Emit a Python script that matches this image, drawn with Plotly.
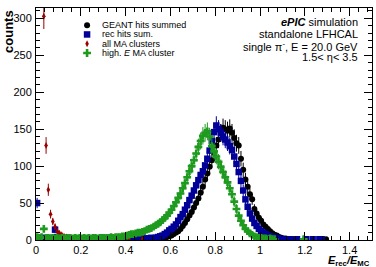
import numpy as np
import plotly.graph_objects as go

# bin width 0.01, bin centers from 0.005
bin_width = 0.01

geant = [2, 0, 0, 0, 0, 0, 0, 0, 1, 0,
         0, 1, 0, 0, 0, 0, 1, 0, 0, 0,
         0, 0, 1, 0, 0, 0, 0, 0, 1, 0,
         0, 0, 0, 1, 0, 0, 0, 1, 0, 0,
         1, 0, 0, 1, 0, 1, 0, 1, 1, 0,
         1, 1, 2, 1, 2, 2, 3, 3, 4, 5,
         6, 8, 10, 12, 15, 19, 23, 28, 33, 38,
         44, 50, 56, 64, 72, 82, 90, 99, 108, 118,
         128, 136, 145, 152, 150, 148, 151, 145, 138, 131,
         128, 110, 95, 82, 72, 62, 55, 42, 36, 30,
         26, 21, 18, 15, 12, 9, 7, 6, 4, 3,
         2, 2, 1, 1, 1, 1, 0, 0, 0, 0,
         0, 0, 0, 0, 0, 0, 0, 0, 0, 1]

rec_hits = [50, 3, 2, 3, 2, 1, 2, 3, 14, 4,
            3, 2, 2, 1, 3, 2, 1, 2, 2, 1,
            1, 2, 1, 2, 1, 1, 2, 1, 2, 1,
            2, 1, 1, 2, 1, 2, 1, 2, 1, 2,
            1, 2, 2, 1, 2, 1, 2, 1, 2, 2,
            2, 3, 2, 3, 4, 5, 6, 8, 10, 13,
            15, 18, 21, 26, 31, 35, 41, 47, 54, 60,
            67, 74, 81, 88, 93, 101, 110, 121, 134, 146,
            155, 150, 145, 140, 136, 132, 127, 122, 113, 103,
            92, 80, 67, 55, 45, 36, 29, 23, 19, 15,
            12, 10, 8, 6, 5, 4, 3, 2, 2, 1,
            1, 1, 0, 1, 0, 0, 1, 0, 0, 0,
            1, 0, 0, 1, 0, 0, 1, 1, 0, 0]

all_ma = [0, 0, 0, 303, 128, 68, 35, 25, 18, 12,
          9, 7, 5, 4, 3, 3, 2, 2, 2, 1,
          1, 1, 2, 1, 1, 1, 0, 1, 1, 0,
          1, 0, 0, 1, 0, 0, 1, 0, 0, 0,
          0, 1, 0, 0, 0, 0, 0, 1, 0, 0]

high_e_ma = [4, 3, 4, 15, 3, 3, 2, 3, 2, 3,
             2, 3, 2, 2, 3, 2, 2, 3, 2, 3,
             2, 3, 2, 3, 2, 3, 3, 2, 3, 3,
             3, 3, 3, 4, 3, 4, 4, 4, 5, 5,
             6, 7, 8, 8, 9, 10, 10, 11, 12, 14,
             15, 16, 18, 20, 22, 24, 27, 30, 33, 37,
             41, 46, 51, 57, 63, 70, 77, 85, 93, 100,
             108, 117, 126, 134, 141, 145, 147, 140, 127, 120,
             113, 106, 99, 92, 85, 78, 70, 62, 52, 42,
             33, 26, 20, 15, 12, 9, 7, 5, 4, 3,
             3, 2, 2, 1, 2, 1, 1, 0, 0, 0,
             0, 0, 0, 0, 0, 0, 0, 0, 0, 1]

series = [
    ("GEANT hits summed", geant, "circle", 6, "#000000"),
    ("rec hits sum.", rec_hits, "square", 6.5, "#000099"),
    ("all MA clusters", all_ma, "diamond-tall", 5, "#990000"),
    ("high. <i>E</i> MA cluster", high_e_ma, "cross", 6.5, "#1e9a1e"),
]

x_ticks = [0, 0.2, 0.4, 0.6, 0.8, 1.0, 1.2, 1.4]
x_ticktext = ["0", "0.2", "0.4", "0.6", "0.8", "1", "1.2", "1.4"]
y_ticks = [0, 50, 100, 150, 200, 250, 300]

fig = go.Figure()
for name, vals, sym, size, col in series:
    v = np.array(vals, dtype=float)
    xc = 0.005 + bin_width * np.arange(len(v))
    m = v > 0
    fig.add_trace(go.Scatter(
        x=xc[m], y=v[m], mode="markers", name=name,
        marker=dict(symbol=sym, size=size, color=col, line=dict(width=0)),
        error_y=dict(type="data", array=np.sqrt(v[m]), color=col, thickness=1, width=0),
        error_x=dict(type="constant", value=bin_width / 2, color=col, thickness=1, width=0),
        showlegend=False,
    ))

# manual legend (glyphs on an overlay [0,1] axis)
leg_rows = [0.926, 0.886, 0.846, 0.806]
for (name, vals, sym, size, col), yy in zip(series, leg_rows):
    fig.add_trace(go.Scatter(
        x=[0.152], y=[yy], mode="markers", xaxis="x2", yaxis="y2",
        marker=dict(symbol=sym, size=size, color=col, line=dict(width=0)),
        showlegend=False, hoverinfo="skip"))
    fig.add_annotation(x=0.19, y=yy, xref="paper", yref="paper", text=name,
                       showarrow=False, xanchor="left", yanchor="middle",
                       font=dict(size=9, color="black", family="Liberation Sans"))

info_lines = ["<b><i>ePIC</i></b> simulation", "standalone LFHCAL",
              "single π<sup>-</sup>, E = 20.0 GeV", "1.5< η< 3.5"]
info_y = [0.94, 0.888, 0.836, 0.787]
for t, yy in zip(info_lines, info_y):
    fig.add_annotation(x=0.964, y=yy, xref="paper", yref="paper", text=t,
                       showarrow=False, xanchor="right", yanchor="middle",
                       font=dict(size=11, color="black", family="Liberation Sans"))

fig.add_annotation(x=-0.082, y=1.0, xref="paper", yref="paper", text="<b>counts</b>",
                   textangle=-90, showarrow=False, xanchor="center", yanchor="top",
                   font=dict(size=13, color="black", family="Liberation Sans"))
fig.add_annotation(x=1.0, y=-0.05, xref="paper", yref="paper",
                   text="<b><i>E</i><sub>rec</sub><i>/E</i><sub>MC</sub></b>",
                   showarrow=False, xanchor="right", yanchor="top",
                   font=dict(size=11, color="black", family="Liberation Sans"))

axis_common = dict(showline=True, linecolor="black", linewidth=1, mirror="allticks",
                   ticks="inside", ticklen=8, tickcolor="black", showgrid=False,
                   zeroline=False, automargin=False,
                   tickfont=dict(size=11, color="black", family="Liberation Sans"))

fig.update_layout(
    width=376, height=267,
    margin=dict(l=36, r=4, t=8, b=27),
    paper_bgcolor="white", plot_bgcolor="white",
    xaxis=dict(range=[0, 1.5], tickvals=x_ticks, ticktext=x_ticktext,
               minor=dict(ticks="inside", ticklen=4, dtick=0.04, tick0=0, tickcolor="black"),
               **axis_common),
    yaxis=dict(range=[0, 314], tickvals=y_ticks, ticklabelstandoff=1,
               minor=dict(ticks="inside", ticklen=4, dtick=10, tick0=0, tickcolor="black"),
               **axis_common),
    xaxis2=dict(overlaying="x", range=[0, 1], visible=False),
    yaxis2=dict(overlaying="y", range=[0, 1], visible=False),
    showlegend=False,
)

fig.write_html("out.html", config={"displayModeBar": False},
               post_script="document.body.style.margin='0px';document.body.style.padding='0px';")
